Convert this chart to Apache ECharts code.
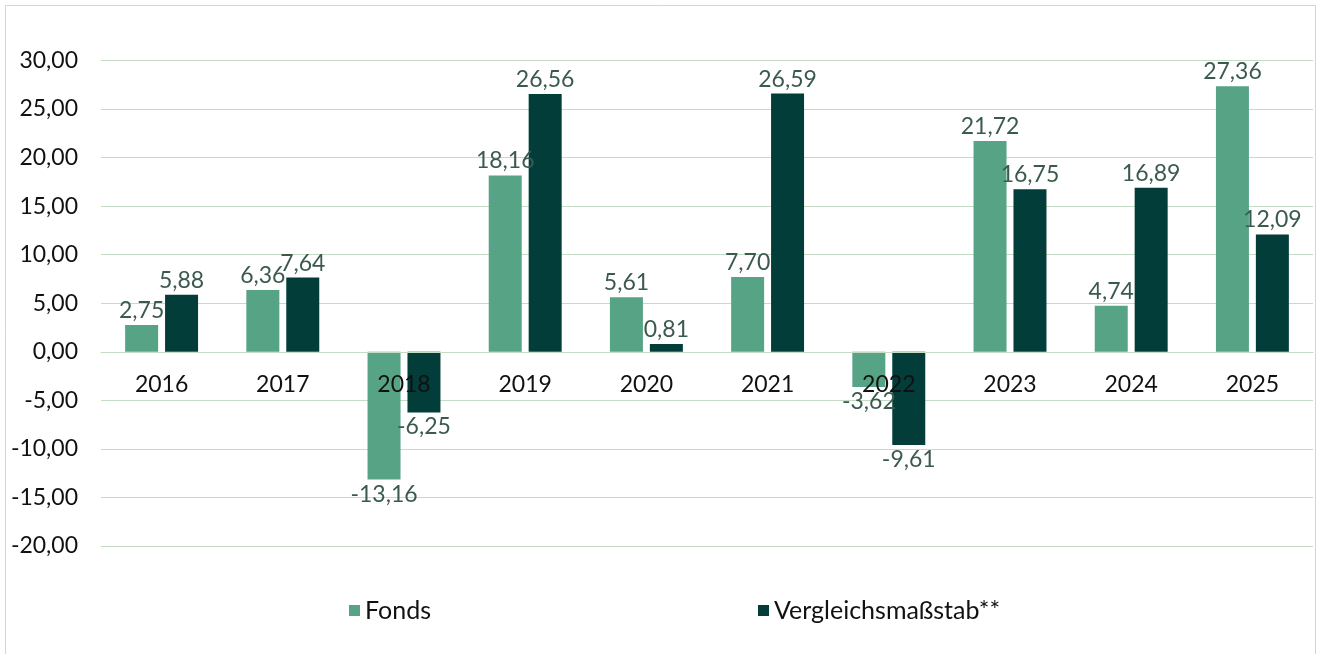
<!DOCTYPE html>
<html>
<head>
<meta charset="utf-8">
<script src="https://cdn.jsdelivr.net/npm/echarts@6/dist/echarts.min.js"></script>
<style>
  html, body { margin: 0; padding: 0; background: #fff; }
  #chart { width: 1320px; height: 654px; }
</style>
</head>
<body>
<div id="chart"></div>
<script>
var years = ['2016', '2017', '2018', '2019', '2020', '2021', '2022', '2023', '2024', '2025'];
var fonds = [2.75, 6.36, -13.16, 18.16, 5.61, 7.70, -3.62, 21.72, 4.74, 27.36];
var vergleich = [5.88, 7.64, -6.25, 26.56, 0.81, 26.59, -9.61, 16.75, 16.89, 12.09];
var yTicks = { min: -20, max: 30, step: 5 };

function fmt(v) {
    return v.toFixed(2).replace('.', ',');
}

// negative values get their label underneath the bar
function withLabels(arr) {
    return arr.map(function (v) {
        return v < 0 ? { value: v, label: { position: 'bottom' } } : v;
    });
}

var myChart = echarts.init(document.getElementById('chart'));
var labelStyle = {
    show: true,
    position: 'top',
    fontFamily: 'Lato',
    fontSize: 23,
    color: '#3b5a4e',
    distance: 3,
    formatter: function (p) { return fmt(p.value); }
};
var option = {
    animation: false,
    textStyle: { fontFamily: 'Lato' },
    graphic: [{
        type: 'rect',
        shape: { x: 5.5, y: 5.5, width: 1310, height: 660 },
        style: { fill: null, stroke: '#c9dccb', lineWidth: 1 },
        silent: true
    }],
    grid: { left: 101, right: 7, top: 60.5, bottom: 108 },
    legend: {
        bottom: 26,
        left: 344,
        itemWidth: 11,
        itemHeight: 11,
        itemGap: 327,
        icon: 'rect',
        textStyle: { fontFamily: 'Lato', fontSize: 25, color: '#111' },
        data: ['Fonds', 'Vergleichsmaßstab**']
    },
    xAxis: {
        type: 'category',
        data: years,
        z: 5,
        offset: 0,
        axisLine: { onZero: false, lineStyle: { color: '#c3dcc3', width: 1 } },
        axisTick: { show: false },
        axisLabel: { margin: 21, fontFamily: 'Lato', fontSize: 23, color: '#111' }
    },
    yAxis: {
        type: 'value',
        min: yTicks.min,
        max: yTicks.max,
        interval: yTicks.step,
        axisLine: { show: false },
        axisTick: { show: false },
        splitLine: { lineStyle: { color: '#c3dcc3', width: 1 } },
        axisLabel: {
            margin: 23,
            fontFamily: 'Lato',
            fontSize: 23,
            color: '#111',
            formatter: function (v) { return fmt(v); }
        }
    },
    series: [
        {
            name: 'Fonds',
            type: 'bar',
            data: withLabels(fonds),
            barWidth: 33,
            barGap: '21%',
            itemStyle: { color: '#57a386' },
            label: labelStyle
        },
        {
            name: 'Vergleichsmaßstab**',
            type: 'bar',
            data: withLabels(vergleich),
            barWidth: 33,
            itemStyle: { color: '#023d3a' },
            label: labelStyle
        }
    ]
};
myChart.setOption(option);

// move the category axis up to the zero line
var zeroY = myChart.convertToPixel({ yAxisIndex: 0 }, 0);
var bottomY = myChart.convertToPixel({ yAxisIndex: 0 }, yTicks.min);
myChart.setOption({ xAxis: { offset: -(bottomY - zeroY) } });
</script>
</body>
</html>
